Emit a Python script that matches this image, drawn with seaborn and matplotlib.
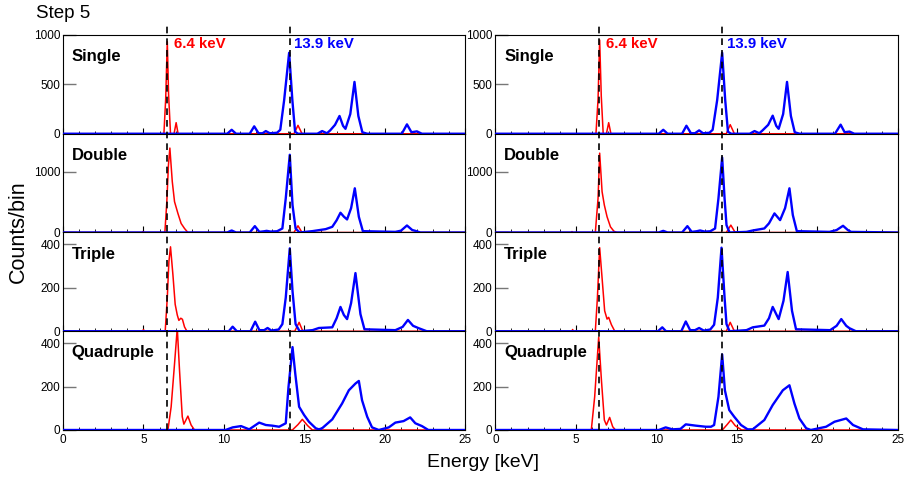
import numpy as np
import seaborn as sns
import matplotlib.pyplot as plt
from matplotlib.lines import Line2D
from matplotlib.ticker import MultipleLocator
import matplotlib.transforms as mtransforms

# ==========================
# DATA (energy in keV / counts per bin)
# ==========================

multiplicity = ["Single", "Double", "Triple", "Quadruple"]
y_max = [1000, 1620, 455, 455]
y_ticks = [[0, 500, 1000], [0, 1000], [0, 200, 400], [0, 200, 400]]
line_energies = [6.45, 14.08]
line_labels = ["6.4 keV", "13.9 keV"]

# --- left column (before correction) ---
l_single_red_e = [0, 6.27, 6.38, 6.48, 6.56, 6.68, 6.9, 7.03, 7.15, 14.35, 14.6, 14.85, 25]
l_single_red_c = [0, 0, 350, 932, 400, 0, 0, 112, 0, 0, 85, 0, 0]
l_single_blue_e = [0, 10.2, 10.48, 10.75, 11.6, 11.88, 12.15, 12.4, 12.6, 12.85, 13.3, 13.5, 13.74,
                   14.05, 14.25, 14.42, 14.6, 15.8, 16.1, 16.4, 16.6, 16.9, 17.18, 17.4, 17.55, 17.85,
                   18.11, 18.35, 18.6, 18.9, 21.05, 21.37, 21.65, 21.99, 22.3, 25]
l_single_blue_c = [0, 0, 40, 0, 0, 75, 5, 5, 27, 5, 10, 40, 340,
                   820, 340, 20, 0, 0, 27, 5, 34, 90, 180, 80, 50, 200,
                   525, 180, 15, 0, 0, 95, 15, 24, 0, 0]

l_double_red_e = [0, 4.9, 4.97, 5.05, 6.33, 6.45, 6.55, 6.64, 6.79, 6.93, 7.14, 7.34, 7.55, 7.76,
                  14.35, 14.6, 14.85, 25]
l_double_red_c = [0, 0, 15, 0, 0, 500, 1100, 1385, 835, 505, 313, 148, 66, 0,
                  0, 110, 0, 0]
l_double_blue_e = [0, 10.2, 10.48, 10.75, 11.6, 11.92, 12.2, 12.5, 12.65, 12.9, 13.3, 13.63, 13.84,
                   14.09, 14.26, 14.45, 14.7, 15.49, 16.32, 16.73, 17.0, 17.24, 17.45, 17.65, 17.9,
                   18.13, 18.38, 18.63, 20.65, 21.0, 21.37, 21.7, 21.89, 22.2, 25]
l_double_blue_c = [0, 0, 33, 0, 0, 104, 10, 20, 27, 15, 20, 66, 560,
                   1275, 450, 66, 0, 22, 55, 93, 200, 324, 260, 214, 400,
                   725, 258, 22, 10, 30, 115, 40, 27, 0, 0]

l_triple_red_e = [0, 4.95, 5.0, 5.05, 6.35, 6.48, 6.58, 6.68, 6.83, 6.97, 7.1, 7.2, 7.32, 7.42,
                  7.55, 7.7, 14.4, 14.67, 14.9, 25]
l_triple_red_c = [0, 0, 8, 0, 0, 155, 321, 389, 260, 124, 75, 50, 60, 55,
                  20, 0, 0, 41, 0, 0]
l_triple_blue_e = [0, 10.3, 10.54, 10.8, 11.65, 11.94, 12.2, 12.5, 12.71, 12.95, 13.4, 13.63, 13.84,
                   14.09, 14.26, 14.45, 14.7, 15.5, 15.9, 16.73, 17.0, 17.24, 17.45, 17.65, 17.9,
                   18.17, 18.48, 18.73, 20.65, 21.1, 21.43, 21.75, 22.1, 22.6, 25]
l_triple_blue_c = [0, 0, 21, 0, 0, 44, 5, 5, 15, 3, 8, 33, 155,
                   382, 185, 33, 0, 5, 15, 18, 60, 112, 75, 56, 130,
                   268, 79, 9, 5, 20, 52, 25, 14, 0, 0]

l_quad_red_e = [0, 6.52, 6.72, 6.93, 7.1, 7.24, 7.41, 7.51, 7.76, 7.96, 8.17,
                14.25, 14.6, 14.87, 15.2, 15.49, 25]
l_quad_red_c = [0, 0, 107, 305, 470, 275, 61, 27, 64, 23, 0,
                0, 25, 49, 20, 0, 0]
l_quad_blue_e = [0, 10.1, 10.54, 11.06, 11.57, 12.19, 12.6, 13.0, 13.43, 13.84, 14.01, 14.26, 14.43,
                 14.67, 14.98, 15.28, 15.7, 15.9, 16.1, 16.73, 17.34, 17.76, 18.17, 18.38, 18.58,
                 18.9, 19.2, 19.62, 20.24, 20.65, 21.16, 21.57, 21.89, 22.3, 22.7, 25]
l_quad_blue_c = [0, 0, 12, 18, 3, 34, 23, 20, 15, 31, 198, 382, 260,
                 107, 69, 38, 8, 3, 8, 49, 122, 183, 214, 226, 137,
                 61, 12, 0, 12, 34, 41, 58, 31, 18, 0, 0]

# --- right column (after correction) ---
r_single_red_e = [0, 6.25, 6.38, 6.48, 6.58, 6.7, 6.9, 7.04, 7.18, 14.35, 14.59, 14.85, 25]
r_single_red_c = [0, 0, 350, 949, 380, 0, 0, 112, 0, 0, 92, 0, 0]
r_single_blue_e = [0, 10.15, 10.43, 10.7, 11.6, 11.87, 12.15, 12.4, 12.66, 12.9, 13.3, 13.5, 13.78,
                   14.09, 14.28, 14.45, 14.65, 15.8, 16.1, 16.4, 16.6, 16.95, 17.23, 17.45, 17.6, 17.88,
                   18.12, 18.36, 18.6, 18.9, 21.1, 21.45, 21.7, 22.0, 22.3, 25]
r_single_blue_c = [0, 0, 40, 0, 0, 81, 5, 5, 34, 5, 10, 40, 340,
                   820, 340, 20, 0, 0, 27, 5, 34, 90, 183, 80, 50, 200,
                   525, 180, 15, 0, 0, 92, 15, 22, 0, 0]

r_double_red_e = [0, 4.7, 4.76, 4.82, 6.21, 6.38, 6.48, 6.63, 6.77, 6.94, 7.15, 7.36, 7.55,
                  14.35, 14.63, 14.9, 25]
r_double_red_c = [0, 0, 15, 0, 0, 560, 1302, 670, 450, 258, 93, 22, 0,
                  0, 121, 0, 0]
r_double_blue_e = [0, 10.15, 10.43, 10.7, 11.6, 11.93, 12.2, 12.5, 12.72, 13.0, 13.35, 13.65, 13.86,
                   14.09, 14.24, 14.36, 14.55, 15.6, 15.99, 16.71, 17.0, 17.34, 17.69, 18.0, 18.27,
                   18.48, 18.73, 20.76, 21.2, 21.6, 21.9, 22.1, 25]
r_double_blue_c = [0, 0, 27, 0, 0, 104, 10, 20, 33, 15, 20, 66, 560,
                   1230, 560, 121, 0, 10, 33, 66, 150, 313, 203, 400, 725,
                   286, 22, 10, 40, 110, 40, 10, 0]

r_triple_red_e = [0, 4.75, 4.8, 4.85, 6.21, 6.34, 6.48, 6.63, 6.79, 6.94, 7.04, 7.21, 7.42,
                  14.35, 14.59, 14.85, 25]
r_triple_red_c = [0, 0, 8, 0, 0, 155, 385, 245, 94, 56, 64, 30, 0,
                  0, 41, 0, 0]
r_triple_blue_e = [0, 10.1, 10.37, 10.6, 11.55, 11.83, 12.1, 12.4, 12.66, 12.95, 13.35, 13.59, 13.82,
                   14.05, 14.24, 14.36, 14.55, 15.6, 15.99, 16.71, 17.0, 17.23, 17.6, 17.9, 18.16,
                   18.43, 18.68, 20.8, 21.2, 21.49, 21.8, 22.0, 22.4, 25]
r_triple_blue_c = [0, 0, 18, 0, 0, 45, 5, 5, 15, 3, 8, 30, 155,
                   385, 155, 33, 0, 5, 18, 26, 60, 112, 56, 140, 273,
                   94, 9, 5, 25, 56, 25, 14, 0, 0]

r_quad_red_e = [0, 5.96, 6.17, 6.42, 6.59, 6.77, 6.9, 7.1, 7.29, 7.46,
                14.1, 14.4, 14.63, 14.9, 15.3, 25]
r_quad_red_c = [0, 0, 153, 428, 229, 46, 23, 58, 15, 0,
                0, 25, 46, 20, 0, 0]
r_quad_blue_e = [0, 10.16, 10.58, 11.0, 11.5, 11.83, 12.45, 13.07, 13.4, 13.59, 13.86, 14.09, 14.26,
                 14.53, 14.84, 15.26, 15.67, 15.99, 16.71, 17.23, 17.86, 18.27, 18.58, 18.89, 19.31,
                 19.6, 20.55, 21.07, 21.8, 22.22, 22.84, 25]
r_quad_blue_c = [0, 0, 12, 3, 5, 26, 20, 15, 15, 23, 153, 348, 183,
                 92, 61, 23, 3, 3, 46, 115, 183, 206, 122, 53, 8,
                 0, 15, 38, 53, 23, 3, 0]

red_curves = [
    [(l_single_red_e, l_single_red_c), (r_single_red_e, r_single_red_c)],
    [(l_double_red_e, l_double_red_c), (r_double_red_e, r_double_red_c)],
    [(l_triple_red_e, l_triple_red_c), (r_triple_red_e, r_triple_red_c)],
    [(l_quad_red_e, l_quad_red_c), (r_quad_red_e, r_quad_red_c)],
]
blue_curves = [
    [(l_single_blue_e, l_single_blue_c), (r_single_blue_e, r_single_blue_c)],
    [(l_double_blue_e, l_double_blue_c), (r_double_blue_e, r_double_blue_c)],
    [(l_triple_blue_e, l_triple_blue_c), (r_triple_blue_e, r_triple_blue_c)],
    [(l_quad_blue_e, l_quad_blue_c), (r_quad_blue_e, r_quad_blue_c)],
]

# ==========================
# FIGURE
# ==========================

sns.set_style("ticks")
plt.rcParams["font.family"] = ["Liberation Sans", "DejaVu Sans"]
plt.rcParams["text.color"] = "black"
plt.rcParams["xtick.color"] = "black"
plt.rcParams["ytick.color"] = "black"
plt.rcParams["axes.labelcolor"] = "black"

fig, axes = plt.subplots(4, 2, figsize=(9.05, 4.82), dpi=100,
                         gridspec_kw=dict(hspace=0, wspace=0.0745))
fig.subplots_adjust(left=0.0696, right=0.992, top=0.9274, bottom=0.1079)

RED = "#ff0000"
BLUE = "#0000ff"

for row in range(4):
    for col in range(2):
        ax = axes[row, col]
        e, c = red_curves[row][col]
        sns.lineplot(x=e, y=c, ax=ax, color=RED, linewidth=1.1, estimator=None, zorder=2)
        e, c = blue_curves[row][col]
        sns.lineplot(x=e, y=c, ax=ax, color=BLUE, linewidth=1.7, estimator=None, zorder=3)

        ax.set_xlim(0, 25)
        ax.set_ylim(0, y_max[row])
        ax.set_yticks(y_ticks[row])
        ax.set_xlabel("")
        ax.set_ylabel("")

        ax.xaxis.set_major_locator(MultipleLocator(5))
        ax.xaxis.set_minor_locator(MultipleLocator(1))
        ax.tick_params(axis="y", direction="in", length=9, width=1, color="#777777",
                       labelcolor="black", labelsize=8.5, pad=2, right=False)
        ax.tick_params(axis="x", which="major", direction="in", length=4, width=0.8,
                       labelcolor="black", labelsize=8.5, pad=3, top=False)
        ax.tick_params(axis="x", which="minor", direction="in", length=2, width=0.6, top=False)
        if row < 3:
            ax.tick_params(axis="x", labelbottom=False)

        for sp in ax.spines.values():
            sp.set_color("black")
            sp.set_linewidth(0.8)

        ax.text(0.022, 0.78, multiplicity[row], transform=ax.transAxes, color="black",
                fontsize=12, fontweight="bold", ha="left", va="center", zorder=5)

        if row == 0:
            trans = mtransforms.blended_transform_factory(ax.transData, ax.transAxes)
            ax.text(line_energies[0] + 0.45, 0.905, line_labels[0], transform=trans,
                    color=RED, fontsize=10.8, fontweight="bold", ha="left", va="center")
            ax.text(line_energies[1] + 0.3, 0.905, line_labels[1], transform=trans,
                    color=BLUE, fontsize=10.8, fontweight="bold", ha="left", va="center")

# dashed reference lines running through the whole column
for col in range(2):
    trans = mtransforms.blended_transform_factory(axes[3, col].transData, fig.transFigure)
    for en in line_energies:
        fig.add_artist(Line2D([en, en], [0.1079, 0.954], transform=trans, color="black",
                              linestyle=(0, (4, 3)), linewidth=1.2, zorder=10))

fig.text(0.04, 0.972, "Step 5", fontsize=13.5, ha="left", va="center", color="black")
fig.text(0.02, 0.52, "Counts/bin", fontsize=15.5, rotation=90, ha="center", va="center",
         color="black")
fig.text(0.534, 0.04, "Energy [keV]", fontsize=14, ha="center", va="center", color="black")

fig.savefig("out.png", dpi=100)
